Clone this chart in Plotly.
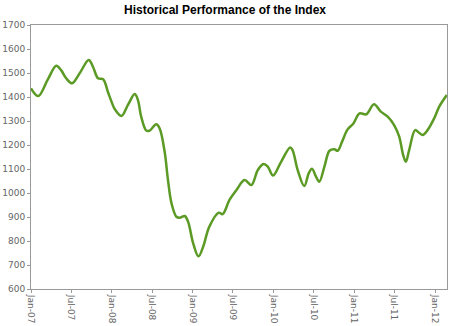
import plotly.graph_objects as go

# Index level readings over time
dates = [
    "2007-01-01", "2007-02-03", "2007-03-17", "2007-04-25", "2007-05-17", "2007-06-09",
    "2007-07-06", "2007-08-09", "2007-09-19", "2007-10-08", "2007-10-31", "2007-11-23",
    "2007-12-15", "2007-12-31", "2008-01-15", "2008-02-14", "2008-03-14", "2008-04-14",
    "2008-04-28", "2008-05-13", "2008-06-05", "2008-06-20", "2008-07-20", "2008-08-04",
    "2008-08-27", "2008-09-11", "2008-09-27", "2008-10-19", "2008-11-03", "2008-11-26",
    "2008-12-11", "2009-01-03", "2009-01-27", "2009-02-17", "2009-03-17", "2009-04-29",
    "2009-05-16", "2009-06-16", "2009-07-16", "2009-08-23", "2009-09-23", "2009-10-22",
    "2009-11-17", "2009-12-06", "2009-12-30", "2010-02-03", "2010-03-17", "2010-03-28",
    "2010-04-20", "2010-05-20", "2010-06-09", "2010-06-24", "2010-07-12", "2010-07-27",
    "2010-08-19", "2010-09-11", "2010-10-03", "2010-10-18", "2010-11-07", "2010-12-01",
    "2010-12-28", "2011-01-25", "2011-02-24", "2011-03-31", "2011-05-01", "2011-06-01",
    "2011-06-30", "2011-07-23", "2011-08-10", "2011-08-22", "2011-09-06", "2011-10-03",
    "2011-10-21", "2011-11-06", "2011-11-28", "2011-12-28", "2012-01-20", "2012-02-23",
]
index_values = [
    1436, 1404, 1471, 1530, 1512, 1478,
    1457, 1499, 1554, 1526, 1478, 1474,
    1420, 1380, 1349, 1321, 1367, 1412,
    1388, 1318, 1260, 1260, 1286, 1270,
    1172, 1054, 957, 901, 897, 904,
    880, 790, 736, 776, 860, 918,
    912, 971, 1010, 1054, 1033, 1096,
    1121, 1110, 1073, 1128, 1190, 1179,
    1096, 1029, 1082, 1101, 1068, 1047,
    1110, 1176, 1182, 1176, 1214, 1264,
    1290, 1332, 1328, 1370, 1339, 1318,
    1283, 1235, 1158, 1130, 1179, 1262,
    1251, 1242, 1262, 1311, 1360, 1408,
]

fig = go.Figure()
fig.add_trace(go.Scatter(
    x=dates, y=index_values, mode="lines",
    line=dict(color="#5b9a24", width=2.5, shape="spline", smoothing=1.0),
    showlegend=False, hoverinfo="skip",
))

axis_font = dict(family="DejaVu Sans", size=9, color="#666666")

fig.update_layout(
    width=450, height=326,
    margin=dict(l=31, r=3, t=25, b=37),
    paper_bgcolor="white", plot_bgcolor="white",
    title=dict(
        text="<b>Historical Performance of the Index</b>",
        x=0.5, xanchor="center", y=0.97, yanchor="middle",
        font=dict(family="Liberation Sans", size=12, color="#000000"),
    ),
    xaxis=dict(
        type="date", range=["2007-01-01", "2012-02-24"],
        tick0="2007-01-01", dtick="M6", tickformat="%b-%y", tickangle=90,
        ticks="outside", ticklen=3, tickcolor="#999999",
        showline=True, linecolor="#999999", linewidth=1, mirror=True,
        showgrid=False, zeroline=False, tickfont=axis_font, automargin=False,
    ),
    yaxis=dict(
        range=[600, 1700], dtick=100,
        ticks="outside", ticklen=3, tickcolor="#999999",
        showline=True, linecolor="#999999", linewidth=1, mirror=True,
        showgrid=False, zeroline=False, tickfont=axis_font, automargin=False,
    ),
)

fig.write_html("out.html")
